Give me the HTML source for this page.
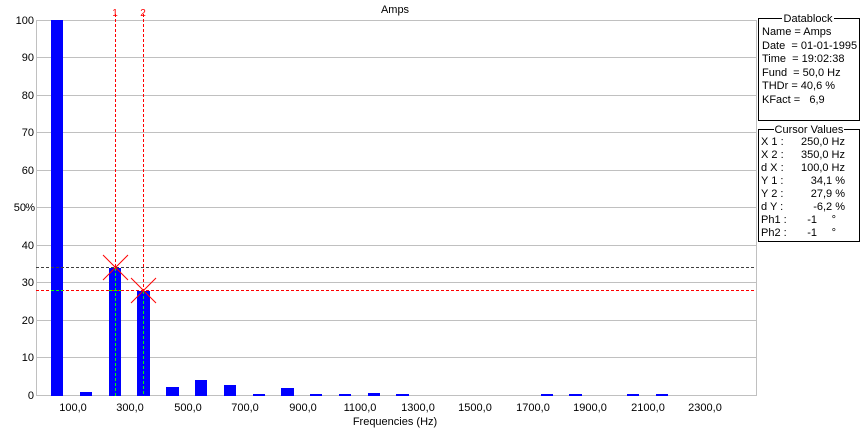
<!DOCTYPE html>
<html><head><meta charset="utf-8"><style>
body{margin:0;background:#fff;}
svg{display:block;font-family:"Liberation Sans",sans-serif;font-size:11px;}
</style></head><body>
<svg width="862" height="432" xmlns="http://www.w3.org/2000/svg">
<rect width="862" height="432" fill="#fff"/>
<text x="395" y="13" text-anchor="middle">Amps</text>
<g stroke="#c0c0c0" stroke-width="1">
<line x1="36" y1="20.5" x2="756" y2="20.5"/>
<line x1="36" y1="57.5" x2="756" y2="57.5"/>
<line x1="36" y1="95.5" x2="756" y2="95.5"/>
<line x1="36" y1="132.5" x2="756" y2="132.5"/>
<line x1="36" y1="170.5" x2="756" y2="170.5"/>
<line x1="36" y1="207.5" x2="756" y2="207.5"/>
<line x1="36" y1="245.5" x2="756" y2="245.5"/>
<line x1="36" y1="282.5" x2="756" y2="282.5"/>
<line x1="36" y1="320.5" x2="756" y2="320.5"/>
<line x1="36" y1="357.5" x2="756" y2="357.5"/>
<line x1="36" y1="395.5" x2="756" y2="395.5"/>
<line x1="36.5" y1="20" x2="36.5" y2="396"/>
<line x1="756.5" y1="20" x2="756.5" y2="396"/>
</g>
<g text-anchor="end">
<text x="34" y="24">100</text><text x="34" y="61">90</text><text x="34" y="99">80</text>
<text x="34" y="136">70</text><text x="34" y="174">60</text><text x="26" y="211">50</text>
<text x="35" y="211">%</text>
<text x="34" y="249">40</text><text x="34" y="286">30</text><text x="34" y="324">20</text>
<text x="34" y="361">10</text><text x="34" y="399">0</text>
</g>
<g text-anchor="middle">
<text x="73" y="411">100,0</text><text x="130" y="411">300,0</text><text x="188" y="411">500,0</text>
<text x="245" y="411">700,0</text><text x="303" y="411">900,0</text><text x="360" y="411">1100,0</text>
<text x="418" y="411">1300,0</text><text x="475" y="411">1500,0</text><text x="533" y="411">1700,0</text>
<text x="590" y="411">1900,0</text><text x="648" y="411">2100,0</text><text x="705" y="411">2300,0</text>
<text x="395" y="425">Frequencies (Hz)</text>
</g>
<g fill="#0000ff">
<rect x="51" y="20" width="12" height="376"/>
<rect x="80" y="392" width="12" height="4"/>
<rect x="109" y="268" width="12" height="128"/>
<rect x="137" y="291" width="13" height="105"/>
<rect x="166" y="387" width="13" height="9"/>
<rect x="195" y="380" width="12" height="16"/>
<rect x="224" y="385" width="12" height="11"/>
<rect x="253" y="394" width="12" height="2"/>
<rect x="281" y="388" width="13" height="8"/>
<rect x="310" y="394" width="12" height="2"/>
<rect x="339" y="394" width="12" height="2"/>
<rect x="368" y="393" width="12" height="3"/>
<rect x="396" y="394" width="13" height="2"/>
<rect x="541" y="394" width="12" height="2"/>
<rect x="569" y="394" width="13" height="2"/>
<rect x="627" y="394" width="12" height="2"/>
<rect x="656" y="394" width="12" height="2"/>
</g>
<g stroke-dasharray="3,2" stroke-width="1">
<line x1="36" y1="267.5" x2="756" y2="267.5" stroke="#404040"/>
<line x1="36" y1="290.5" x2="756" y2="290.5" stroke="#ff0000"/>
<line x1="115.5" y1="14" x2="115.5" y2="268" stroke="#ff0000"/>
<line x1="115.5" y1="268" x2="115.5" y2="396" stroke="#00ff00"/>
<line x1="143.5" y1="14" x2="143.5" y2="291" stroke="#ff0000"/>
<line x1="143.5" y1="291" x2="143.5" y2="396" stroke="#00ff00"/>
<line x1="51" y1="290.5" x2="63" y2="290.5" stroke="#00ff00"/>
<line x1="109" y1="290.5" x2="121" y2="290.5" stroke="#00ff00"/>
</g>
<g stroke="#ff0000" stroke-width="1">
<line x1="103" y1="255" x2="128" y2="280"/><line x1="128" y1="255" x2="103" y2="280"/>
<line x1="131" y1="278" x2="156" y2="303"/><line x1="156" y1="278" x2="131" y2="303"/>
</g>
<g fill="#ff0000" font-size="10" text-anchor="middle">
<text x="115" y="16">1</text><text x="143" y="16">2</text>
</g>
<rect x="758.5" y="18.5" width="101" height="102" fill="none" stroke="#000"/>
<rect x="782" y="12" width="52" height="12" fill="#fff"/>
<text x="808" y="22" text-anchor="middle">Datablock</text>
<g>
<text x="762" y="35">Name = Amps</text>
<text x="762" y="49">Date&#160;&#160;= 01-01-1995</text>
<text x="762" y="62">Time&#160;&#160;= 19:02:38</text>
<text x="762" y="76">Fund&#160;&#160;= 50,0 Hz</text>
<text x="762" y="89">THDr = 40,6 %</text>
<text x="762" y="103">KFact =&#160;&#160;&#160;6,9</text>
</g>
<rect x="758.5" y="129.5" width="101" height="112" fill="none" stroke="#000"/>
<rect x="774" y="123" width="70" height="12" fill="#fff"/>
<text x="809" y="133" text-anchor="middle">Cursor Values</text>
<g>
<text x="761" y="145">X 1 :</text><text x="761" y="158">X 2 :</text><text x="761" y="171">d X :</text>
<text x="761" y="184">Y 1 :</text><text x="761" y="197">Y 2 :</text><text x="761" y="210">d Y :</text>
<text x="761" y="223">Ph1 :</text><text x="761" y="236">Ph2 :</text>
</g>
<g text-anchor="end">
<text x="845" y="145">250,0 Hz</text><text x="845" y="158">350,0 Hz</text><text x="845" y="171">100,0 Hz</text>
<text x="845" y="184">34,1 %</text><text x="845" y="197">27,9 %</text><text x="845" y="210">-6,2 %</text>
<text x="817" y="223">-1</text><text x="817" y="236">-1</text>
<text x="836" y="223">°</text><text x="836" y="236">°</text>
</g>
</svg>
</body></html>
